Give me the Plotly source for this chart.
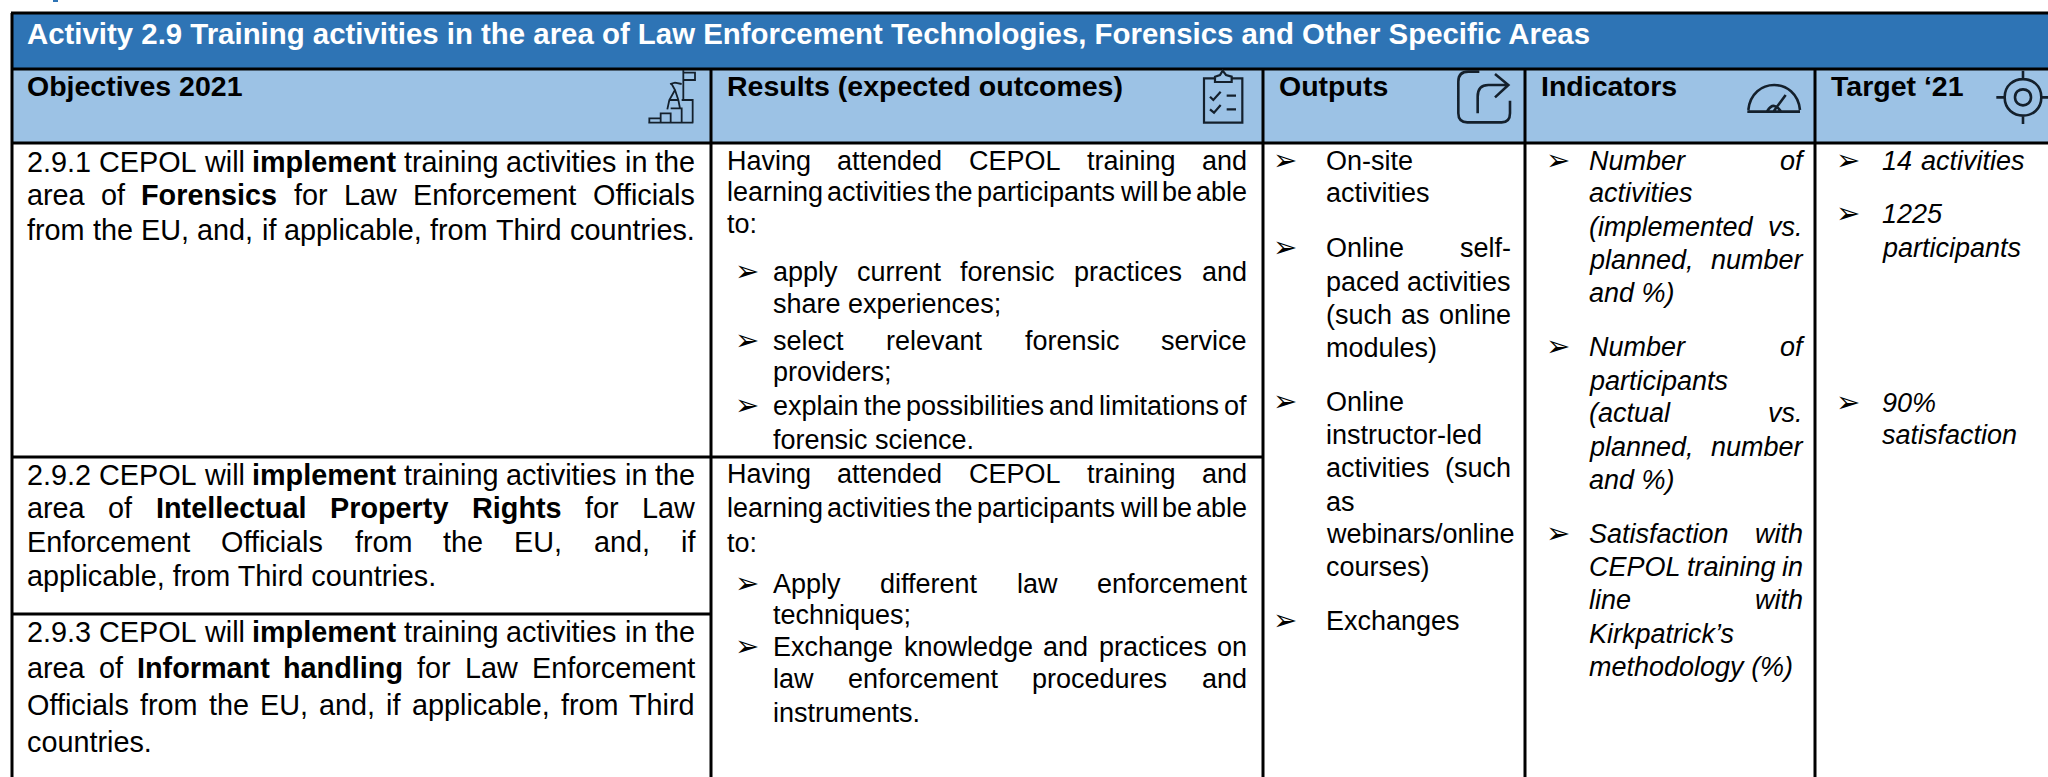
import plotly.graph_objects as go

# ---------- content ----------
TITLE = "Activity 2.9 Training activities in the area of Law Enforcement Technologies, Forensics and Other Specific Areas"
HEADERS = ["Objectives 2021", "Results (expected outcomes)", "Outputs", "Indicators", "Target ‘21"]
HEADER_X = [26, 726, 1278, 1540, 1830]

# each line: (y centre, text, justified?)  **word** = bold
OBJECTIVES = [
    (162, "2.9.1 CEPOL will **implement** training activities in the", True),
    (195, "area of **Forensics** for Law Enforcement Officials", True),
    (230, "from the EU, and, if applicable, from Third countries.", True),
    (475, "2.9.2 CEPOL will **implement** training activities in the", True),
    (508, "area of **Intellectual** **Property** **Rights** for Law", True),
    (542, "Enforcement Officials from the EU, and, if", True),
    (576, "applicable, from Third countries.", False),
    (632, "2.9.3 CEPOL will **implement** training activities in the", True),
    (668, "area of **Informant** **handling** for Law Enforcement", True),
    (705, "Officials from the EU, and, if applicable, from Third", True),
    (742, "countries.", False),
]
RESULTS_INTRO = [
    (161, "Having attended CEPOL training and", True),
    (192, "learning activities the participants will be able", True),
    (224, "to:", False),
    (474, "Having attended CEPOL training and", True),
    (508, "learning activities the participants will be able", True),
    (543, "to:", False),
]
RESULTS_ITEMS = [
    (272, "apply current forensic practices and", True, True),
    (304, "share experiences;", False, False),
    (341, "select relevant forensic service", True, True),
    (372, "providers;", False, False),
    (406, "explain the possibilities and limitations of", True, True),
    (440, "forensic science.", False, False),
    (584, "Apply different law enforcement", True, True),
    (615, "techniques;", False, False),
    (647, "Exchange knowledge and practices on", True, True),
    (679, "law enforcement procedures and", True, False),
    (713, "instruments.", False, False),
]
OUTPUTS = [
    (161, "On-site", False, True),
    (193, "activities", False, False),
    (248, "Online self-", True, True),
    (282, "paced activities", True, False),
    (315, "(such as online", True, False),
    (348, "modules)", False, False),
    (402, "Online", False, True),
    (435, "instructor-led", False, False),
    (468, "activities (such", True, False),
    (502, "as", False, False),
    (534, "webinars/online", False, False),
    (567, "courses)", False, False),
    (621, "Exchanges", False, True),
]
INDICATORS = [
    (161, "Number of", True, True),
    (193, "activities", False, False),
    (227, "(implemented vs.", True, False),
    (260, "planned, number", True, False),
    (293, "and %)", False, False),
    (347, "Number of", True, True),
    (381, "participants", False, False),
    (413, "(actual vs.", True, False),
    (447, "planned, number", True, False),
    (480, "and %)", False, False),
    (534, "Satisfaction with", True, True),
    (567, "CEPOL training in", True, False),
    (600, "line with", True, False),
    (634, "Kirkpatrick’s", False, False),
    (667, "methodology (%)", False, False),
]
TARGETS = [
    (161, "14 activities", True, True),
    (214, "1225", False, True),
    (248, "participants", False, False),
    (403, "90%", False, True),
    (435, "satisfaction", False, False),
]

# ---------- styles ----------
BAND = "#2E74B5"
HEAD = "#9CC2E5"
INK = "#000000"
FONT = "Liberation Sans"
TITLE_SIZE = 29.4
HEAD_SIZE = 28.5
OBJ_SIZE = 28.8
BODY_SIZE = 27
BULLET = "\u27a2"

# Arial advance widths, used to lay out justified lines word by word
REG = dict(zip("abcdefghijklmnopqrstuvwxyz", [556,556,500,556,556,278,556,556,222,222,500,222,833,556,556,556,556,333,500,278,556,500,722,500,500,500]))
REG.update(zip("ABCDEFGHIJKLMNOPQRSTUVWXYZ", [667,667,722,722,667,611,778,722,278,500,667,556,833,722,778,667,778,722,667,611,722,667,944,667,667,611]))
REG.update({c: 556 for c in "0123456789"})
REG.update({" ": 278, ".": 278, ",": 278, ":": 278, ";": 278, "-": 333, "(": 333, ")": 333, "%": 889, "/": 278, "’": 222, "‘": 222})
BLD = dict(zip("abcdefghijklmnopqrstuvwxyz", [556,611,556,611,556,333,611,611,278,278,556,278,889,611,611,611,611,389,556,333,611,556,778,556,556,500]))
BLD.update(zip("ABCDEFGHIJKLMNOPQRSTUVWXYZ", [722,722,722,722,667,611,778,722,278,556,722,611,833,722,778,667,778,722,667,611,722,667,944,667,667,611]))


def word_width(word, bold, size):
    table = BLD if bold else REG
    return sum(table.get(c, REG.get(c, 556)) for c in word) * size / 1000


annotations = []


def put(x, y, text, size=BODY_SIZE, color=INK, family=FONT):
    annotations.append(dict(x=x, y=y, xref="x", yref="y", text=text, showarrow=False,
                            xanchor="left", yanchor="middle", align="left", borderpad=0,
                            font=dict(family=family, size=size, color=color)))


def set_line(y, text, justified, left, right, italic, size):
    words = text.split(" ")
    def fmt(w):
        if w.startswith("**"):
            return "<b>" + w.strip("*") + "</b>"
        return f"<i>{w}</i>" if italic else w
    if not justified:
        put(left, y, " ".join(fmt(w) for w in words), size=size)
        return
    widths = [word_width(w.strip("*"), w.startswith("**"), size) for w in words]
    gap = (right - left - sum(widths)) / max(len(words) - 1, 1)
    x = left
    for w, wd in zip(words, widths):
        put(x, y, fmt(w), size=size)
        x += wd + gap


def add_column(lines, left, right, bullet_x=None, italic=False, size=BODY_SIZE):
    for line in lines:
        y, text, justified = line[:3]
        set_line(y, text, justified, left, right, italic, size)
        if len(line) > 3 and line[3]:
            put(bullet_x, y - 1, BULLET, size=29, family="DejaVu Sans")


# ---------- text ----------
put(26, 33, f"<b>{TITLE}</b>", size=TITLE_SIZE, color="#FFFFFF")
for hx, h in zip(HEADER_X, HEADERS):
    put(hx, 86, f"<b>{h}</b>", size=HEAD_SIZE)
add_column(OBJECTIVES, 26, 694, size=OBJ_SIZE)
add_column(RESULTS_INTRO, 726, 1246)
add_column(RESULTS_ITEMS, 772, 1246, bullet_x=734)
add_column(OUTPUTS, 1325, 1510, bullet_x=1272)
add_column(INDICATORS, 1588, 1802, bullet_x=1545, italic=True)
add_column(TARGETS, 1881, 2024, bullet_x=1835, italic=True)

# ---------- shapes ----------
shapes = []


def rect(x0, y0, x1, y1, fill):
    shapes.append(dict(type="rect", x0=x0, y0=y0, x1=x1, y1=y1, xref="x", yref="y",
                       fillcolor=fill, line=dict(width=0), layer="below"))


def hline(x0, x1, y, w=3):
    shapes.append(dict(type="line", x0=x0, x1=x1, y0=y, y1=y, xref="x", yref="y",
                       line=dict(color=INK, width=w), layer="above"))


def vline(x, y0, y1, w=3):
    shapes.append(dict(type="line", x0=x, x1=x, y0=y0, y1=y1, xref="x", yref="y",
                       line=dict(color=INK, width=w), layer="above"))


def icon(path, ox, oy, w=2.2, scale=3):
    """path: SVG commands with coordinates in 3x zoomed icon space."""
    out = []
    for tok in path.split():
        if tok[0].isalpha():
            out.append(tok)
        else:
            a, b = tok.split(",")
            out.append(f"{ox + float(a) / scale:.2f},{oy + float(b) / scale:.2f}")
    shapes.append(dict(type="path", path=" ".join(out), xref="x", yref="y",
                       line=dict(color="#14202c", width=w), layer="above"))


rect(12, 13, 2048, 69, BAND)
rect(12, 69, 2048, 143, HEAD)
hline(11, 2048, 13)
hline(11, 2048, 69)
hline(11, 2048, 143)
vline(12, 13, 777)
for cx in [711, 1263, 1525, 1815]:
    vline(cx, 69, 777)
hline(12, 1263, 457)
hline(12, 711, 614)
rect(53, 0, 58, 2, BAND)

# flag climber
icon("M 55,188 L 190,188 M 58,188 L 58,175 L 92,175 L 92,188 M 92,175 L 92,160 L 122,160 L 122,188 "
     "M 122,145 L 155,145 L 155,188 M 155,120 L 188,120 L 188,188 M 160,120 L 160,30 "
     "M 160,38 L 195,38 L 195,60 L 160,60 M 120,72 L 135,68 L 155,72 M 125,72 L 135,90 L 118,120 L 112,148 "
     "M 135,90 L 145,120 L 150,145 M 118,120 L 145,120", 630, 60, w=1.8)
# clipboard
icon("M 105,55 L 72,55 L 72,188 L 187,188 L 187,55 L 155,55 M 105,66 L 105,50 L 120,45 L 128,32 L 138,45 L 155,50 L 155,66 Z "
     "M 90,110 L 100,120 L 122,95 M 140,107 L 168,107 M 90,148 L 102,158 L 122,135 M 140,148 L 168,148", 1180, 60)
# share arrow
icon("M 148,35 L 115,35 Q 85,35 85,65 L 85,160 Q 85,187 112,187 L 215,187 Q 240,187 240,160 L 240,122 "
     "M 143,160 L 143,110 Q 143,75 175,75 L 232,75 M 195,42 L 235,75 L 195,112", 1430, 60, w=2.6)
# gauge
icon("M 85,150 C 95,50 230,50 240,150 M 82,155 L 240,155 M 142,153 Q 160,122 182,153 M 160,155 L 197,105", 1720, 60, w=2.6)
# target
icon("M 170,292 C 170,219 280,219 280,292 C 280,365 170,365 170,292 Z "
     "M 201,292 C 201,260 249,260 249,292 C 249,324 201,324 201,292 Z "
     "M 225,212 L 225,237 M 225,347 L 225,372 M 145,292 L 170,292 M 280,292 L 300,292", 1948, 0, w=2.6)

fig = go.Figure()
fig.update_layout(
    width=2048, height=777, autosize=False,
    margin=dict(l=0, r=0, t=0, b=0),
    paper_bgcolor="white", plot_bgcolor="white",
    showlegend=False,
    xaxis=dict(range=[0, 2048], visible=False, fixedrange=True),
    yaxis=dict(range=[777, 0], visible=False, fixedrange=True),
    shapes=shapes, annotations=annotations,
)
fig.write_html("out.html", config={"displayModeBar": False},
               post_script="document.body.style.margin='0';document.body.style.overflow='hidden';")
